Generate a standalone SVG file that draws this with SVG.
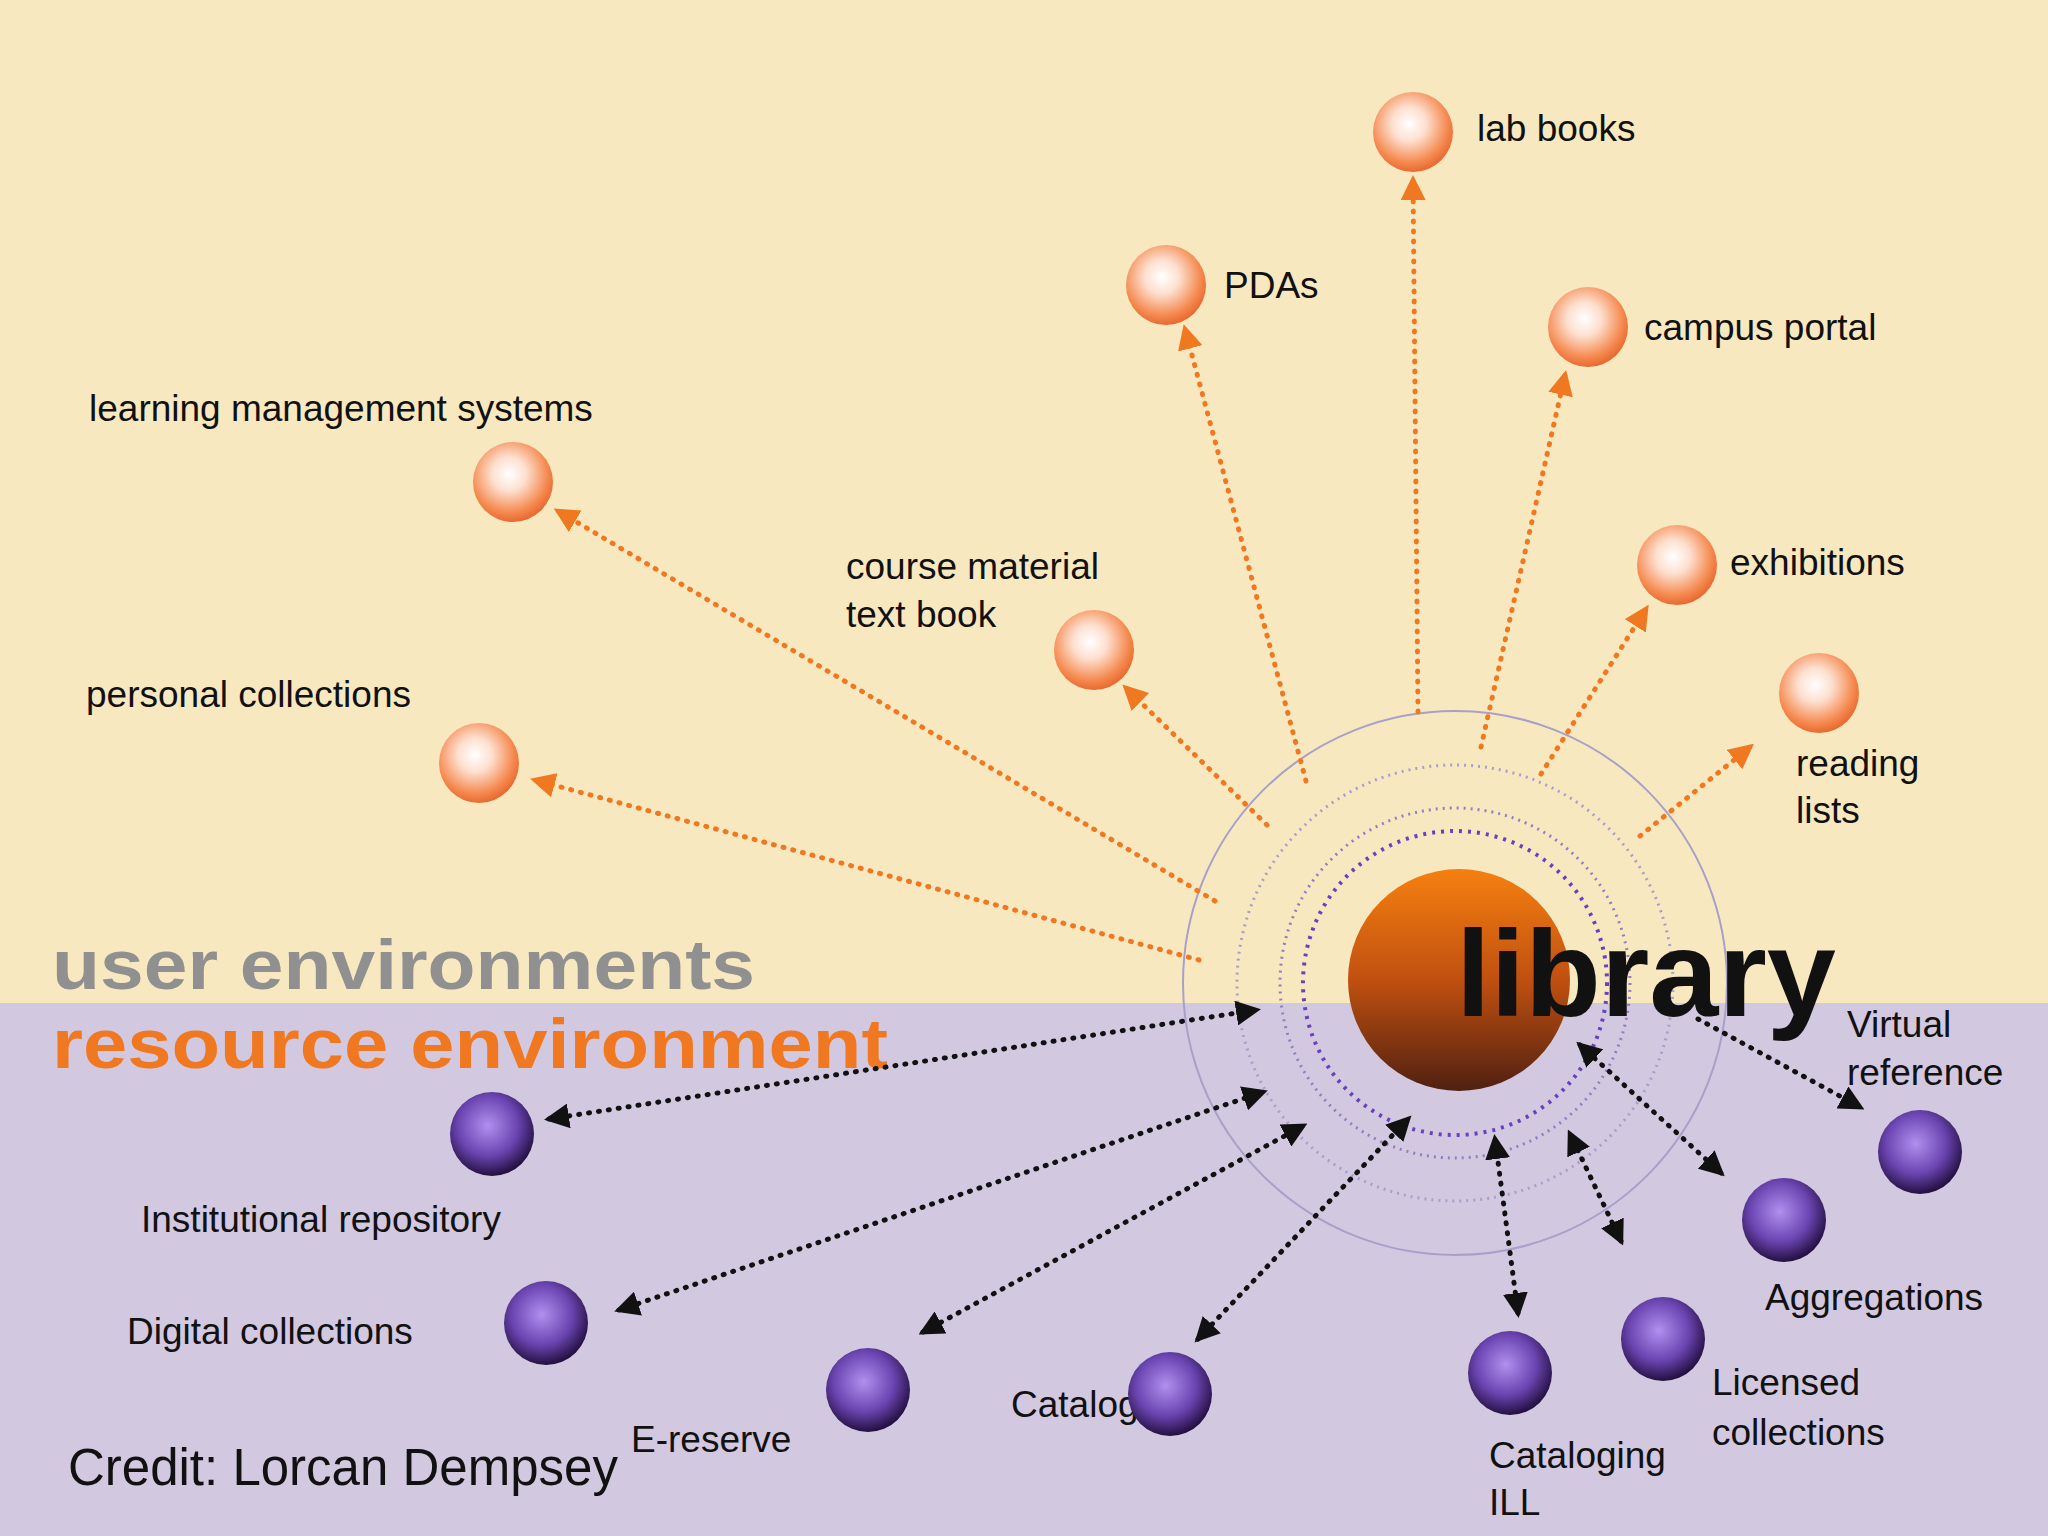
<svg xmlns="http://www.w3.org/2000/svg" width="2048" height="1536" viewBox="0 0 2048 1536">
<defs>
<radialGradient id="og" cx="0.45" cy="0.4" r="0.6"><stop offset="0" stop-color="#ffffff"/><stop offset="0.35" stop-color="#fde0d0"/><stop offset="0.8" stop-color="#f58a50"/><stop offset="1" stop-color="#e86a30"/></radialGradient>
<radialGradient id="pg" cx="0.45" cy="0.4" r="0.6"><stop offset="0" stop-color="#b090f0"/><stop offset="0.6" stop-color="#6a44b0"/><stop offset="1" stop-color="#241040"/></radialGradient>
<linearGradient id="lg" x1="0" y1="0" x2="0" y2="1"><stop offset="0" stop-color="#f58010"/><stop offset="0.5" stop-color="#c05010"/><stop offset="1" stop-color="#502010"/></linearGradient>
<marker id="oa" viewBox="0 0 10 10" refX="8" refY="5" markerWidth="5" markerHeight="5" orient="auto-start-reverse" markerUnits="strokeWidth"><path d="M0,0 L10,5 L0,10 z" fill="#f07820"/></marker>
<marker id="ba" viewBox="0 0 10 10" refX="8" refY="5" markerWidth="5" markerHeight="5" orient="auto-start-reverse" markerUnits="strokeWidth"><path d="M0,0 L10,5 L0,10 z" fill="#111"/></marker>
</defs>
<style>
.t{font-family:"Liberation Sans",Arial,sans-serif;font-size:37px;fill:#111}
.o{fill:none;stroke:#f07820;stroke-width:5;stroke-dasharray:1 9;stroke-linecap:round;marker-end:url(#oa)}
.b{fill:none;stroke:#111;stroke-width:5;stroke-dasharray:1 9;stroke-linecap:round;marker-end:url(#ba);marker-start:url(#ba)}
.on{fill:url(#og)}
.pn{fill:url(#pg)}
</style>
<rect x="0" y="0" width="2048" height="1003" fill="#f8e8c0"/>
<rect x="0" y="1003" width="2048" height="533" fill="#d2c8e0"/>
<g id="rings" fill="none">
<circle cx="1455" cy="983" r="272" stroke="#a8a0c8" stroke-width="2"/>
<circle cx="1455" cy="983" r="218" stroke="#a8a0c8" stroke-width="3" stroke-dasharray="2 5"/>
<circle cx="1455" cy="983" r="175" stroke="#9080c0" stroke-width="3" stroke-dasharray="2 5"/>
<circle cx="1455" cy="983" r="152" stroke="#6a40c0" stroke-width="4" stroke-dasharray="3 6"/>
</g>
<text class="t" x="52" y="989" textLength="703" lengthAdjust="spacingAndGlyphs" style="font-size:70px;font-weight:bold;fill:#909090">user environments</text>
<text class="t" x="52" y="1068" textLength="836" lengthAdjust="spacingAndGlyphs" style="font-size:70px;font-weight:bold;fill:#f07820">resource environment</text>
<g id="connectors">
<line class="o" x1="1418" y1="712" x2="1413" y2="180"/>
<line class="o" x1="1306" y1="781" x2="1185" y2="329"/>
<line class="o" x1="1481" y1="747" x2="1565" y2="375"/>
<line class="o" x1="1215" y1="901" x2="558" y2="511"/>
<line class="o" x1="1267" y1="825" x2="1126" y2="688"/>
<line class="o" x1="1541" y1="774" x2="1646" y2="609"/>
<line class="o" x1="1640" y1="836" x2="1750" y2="747"/>
<line class="o" x1="1199" y1="960" x2="535" y2="780"/>
<line class="b" x1="549" y1="1119" x2="1256" y2="1010"/>
<line class="b" x1="619" y1="1310" x2="1263" y2="1092"/>
<line class="b" x1="923" y1="1332" x2="1303" y2="1126"/>
<line class="b" x1="1198" y1="1339" x2="1408" y2="1119"/>
<line class="b" x1="1518" y1="1313" x2="1495" y2="1139"/>
<line class="b" x1="1621" y1="1241" x2="1570" y2="1134"/>
<line class="b" x1="1721" y1="1173" x2="1580" y2="1045"/>
<line class="b" x1="1698" y1="1019" x2="1860" y2="1107" style="marker-start:none"/>
</g>
<g id="library"><circle cx="1459" cy="980" r="111" fill="url(#lg)"/><text class="t" x="1456" y="1016" textLength="380" lengthAdjust="spacingAndGlyphs" style="font-size:122px;font-weight:bold">library</text></g>
<g id="lab"><circle class="on" cx="1413" cy="132" r="40"/><text class="t" x="1477" y="141">lab books</text></g>
<g id="pdas"><circle class="on" cx="1166" cy="285" r="40"/><text class="t" x="1224" y="298">PDAs</text></g>
<g id="campus"><circle class="on" cx="1588" cy="327" r="40"/><text class="t" x="1644" y="340">campus portal</text></g>
<g id="lms"><circle class="on" cx="513" cy="482" r="40"/><text class="t" x="89" y="421">learning management systems</text></g>
<g id="course"><circle class="on" cx="1094" cy="650" r="40"/><text class="t" x="846" y="579">course material</text><text class="t" x="846" y="627">text book</text></g>
<g id="exhib"><circle class="on" cx="1677" cy="565" r="40"/><text class="t" x="1730" y="575">exhibitions</text></g>
<g id="reading"><circle class="on" cx="1819" cy="693" r="40"/><text class="t" x="1796" y="776">reading</text><text class="t" x="1796" y="823">lists</text></g>
<g id="personal"><circle class="on" cx="479" cy="763" r="40"/><text class="t" x="86" y="707">personal collections</text></g>
<g id="inst"><circle class="pn" cx="492" cy="1134" r="42"/><text class="t" x="141" y="1232">Institutional repository</text></g>
<g id="digital"><circle class="pn" cx="546" cy="1323" r="42"/><text class="t" x="127" y="1344">Digital collections</text></g>
<g id="ereserve"><circle class="pn" cx="868" cy="1390" r="42"/><text class="t" x="631" y="1452">E-reserve</text></g>
<g id="catalog"><text class="t" x="1011" y="1417">Catalog</text><circle class="pn" cx="1170" cy="1394" r="42"/></g>
<g id="catill"><circle class="pn" cx="1510" cy="1373" r="42"/><text class="t" x="1489" y="1468">Cataloging</text><text class="t" x="1489" y="1515">ILL</text></g>
<g id="licensed"><circle class="pn" cx="1663" cy="1339" r="42"/><text class="t" x="1712" y="1395">Licensed</text><text class="t" x="1712" y="1445">collections</text></g>
<g id="aggreg"><circle class="pn" cx="1784" cy="1220" r="42"/><text class="t" x="1765" y="1310">Aggregations</text></g>
<g id="virtual"><circle class="pn" cx="1920" cy="1152" r="42"/><text class="t" x="1847" y="1037">Virtual</text><text class="t" x="1847" y="1085">reference</text></g>
<text class="t" x="68" y="1485" style="font-size:51px">Credit: Lorcan Dempsey</text>
</svg>
